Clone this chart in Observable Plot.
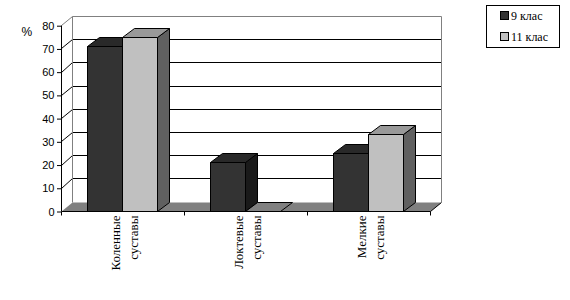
<!DOCTYPE html>
<html>
<head>
<meta charset="utf-8">
<script src="https://cdn.jsdelivr.net/npm/d3@7"></script>
<script src="https://cdn.jsdelivr.net/npm/@observablehq/plot@0.6"></script>
<style>
  html, body { margin: 0; padding: 0; background: #fff; }
  #wrap { position: relative; width: 570px; height: 300px; overflow: hidden; }
  #legend { position: absolute; left: 486px; top: 5px; width: 72px; height: 41px; border: 1px solid #000; background: #fff;
            font-family: "Liberation Serif", "DejaVu Serif", "Times New Roman", serif; font-size: 12px; color: #000; }
  .row { position: absolute; left: 13px; height: 14px; line-height: 14px; white-space: nowrap; }
  .sw { display: inline-block; width: 7px; height: 7px; border: 1px solid #000; margin-right: 2px; vertical-align: 0px; }
</style>
</head>
<body>
<div id="wrap"></div>
<script>
// ---- data ----
const categories = ["Коленные\nсуставы", "Локтевые\nсуставы", "Мелкие\nсуставы"];
const seriesNames = ["9 клас", "11 клас"];
const grade9 = [71, 21, 25];
const grade11 = [75, 0, 33];
const yTicks = [0, 10, 20, 30, 40, 50, 60, 70, 80];
const yLabel = "%";

// ---- styling ----
const frontColors = ["#333333", "#c0c0c0"];
const topColors = ["#292929", "#999999"];
const sideColors = ["#1a1a1a", "#606060"];
const DX = 11.5, DY = 9.3;
const serifFont = "'Liberation Serif', 'DejaVu Serif', 'Times New Roman', serif";
const sansFont = "'Liberation Sans', 'DejaVu Sans', Arial, sans-serif";

const seriesValues = [grade9, grade11];

function chart3d(index, scales) {
  const x = scales.x, y = scales.y;
  const bw = typeof x.bandwidth === "function" ? x.bandwidth() : x.bandwidth;
  const r = v => Math.round(v - 0.5) + 0.5;
  const g = d3.create("svg:g");
  const xl = x(categories[0]);
  const xr = x(categories[categories.length - 1]) + bw;
  const y0 = y(0), yTop = y(yTicks[yTicks.length - 1]);
  const poly = (pts, fill, stroke) => g.append("path")
    .attr("d", "M" + pts.map(p => r(p[0]) + "," + r(p[1])).join("L") + "Z")
    .attr("fill", fill).attr("stroke", stroke || "none").attr("stroke-width", 1);
  const line = (x1, y1, x2, y2, stroke) => g.append("line")
    .attr("x1", r(x1)).attr("y1", r(y1)).attr("x2", r(x2)).attr("y2", r(y2))
    .attr("stroke", stroke).attr("stroke-width", 1);

  // floor
  poly([[xl, y0], [xr, y0], [xr + DX, y0 - DY], [xl + DX, y0 - DY]], "#808080");
  line(xr, y0, xr + DX, y0 - DY, "#000");
  // back wall gridlines and side-wall lines
  for (const t of yTicks) {
    if (t === 0) continue;
    const yy = y(t);
    const col = t === yTicks[yTicks.length - 1] ? "#808080" : "#000";
    line(xl + DX, yy - DY, xr + DX, yy - DY, col);
    line(xl, yy, xl + DX, yy - DY, col);
  }
  // back wall edges
  line(xl + DX, yTop - DY, xl + DX, y0 - DY, "#808080");
  line(xr + DX, yTop - DY, xr + DX, y0 - DY, "#808080");

  // bars
  const w = bw * 35 / 123;
  categories.forEach((c, ci) => {
    const cx = x(c) + bw / 2;
    seriesValues.forEach((vals, si) => {
      const v = vals[ci];
      const x0 = cx - w + si * w, x1 = x0 + w;
      const yv = y(v);
      if (v > 0) {
        poly([[x1, yv], [x1 + DX, yv - DY], [x1 + DX, y0 - DY], [x1, y0]], sideColors[si], "#000");
        poly([[x0, yv], [x1, yv], [x1, y0], [x0, y0]], frontColors[si], "#000");
        poly([[x0, yv], [x1, yv], [x1 + DX, yv - DY], [x0 + DX, yv - DY]], topColors[si], "#000");
      } else {
        poly([[x0, yv], [x1, yv], [x1 + DX, yv - DY], [x0 + DX, yv - DY]], "#808080", "#000");
      }
    });
  });

  // axis lines
  line(xl, y0, xr, y0, "#000");
  line(xl, yTop, xl, y0, "#000");
  const bounds = categories.map(c => x(c)).concat([xr]);
  for (const b of bounds) line(b, y0, b, y0 + 4, "#000");
  return g.node();
}

const plot = Plot.plot({
  width: 570,
  height: 300,
  marginLeft: 61,
  marginRight: 140,
  marginTop: 25.7,
  marginBottom: 88.5,
  style: { background: "transparent", fontFamily: sansFont, overflow: "visible" },
  x: { type: "band", domain: categories, padding: 0, axis: null },
  y: { domain: [0, 80] },
  marks: [
    chart3d,
    Plot.axisY(yTicks, { tickSize: 4, tickPadding: 3, fontSize: 11, fontFamily: sansFont, label: null, tickFormat: d => String(d), stroke: "#000" }),
    Plot.text(categories, {
      x: d => d, y: () => 0, text: d => d, rotate: -90, textAnchor: "end", dy: 3.5,
      lineAnchor: "middle", lineHeight: 1.385, fontSize: 13,
      fontFamily: serifFont, fill: "#000"
    }),
    Plot.text([yLabel], { frameAnchor: "top-left", dx: -40, dy: 1, fontSize: 12, fontFamily: sansFont, fill: "#000", text: d => d })
  ]
});
document.getElementById("wrap").appendChild(plot);

const legend = document.createElement("div");
legend.id = "legend";
seriesNames.forEach((s, i) => {
  const row = document.createElement("div");
  row.className = "row";
  row.style.top = (i === 0 ? 3 : 24) + "px";
  row.innerHTML = `<span class="sw" style="background:${frontColors[i]}"></span>${s}`;
  legend.appendChild(row);
});
document.getElementById("wrap").appendChild(legend);
</script>
</body>
</html>
